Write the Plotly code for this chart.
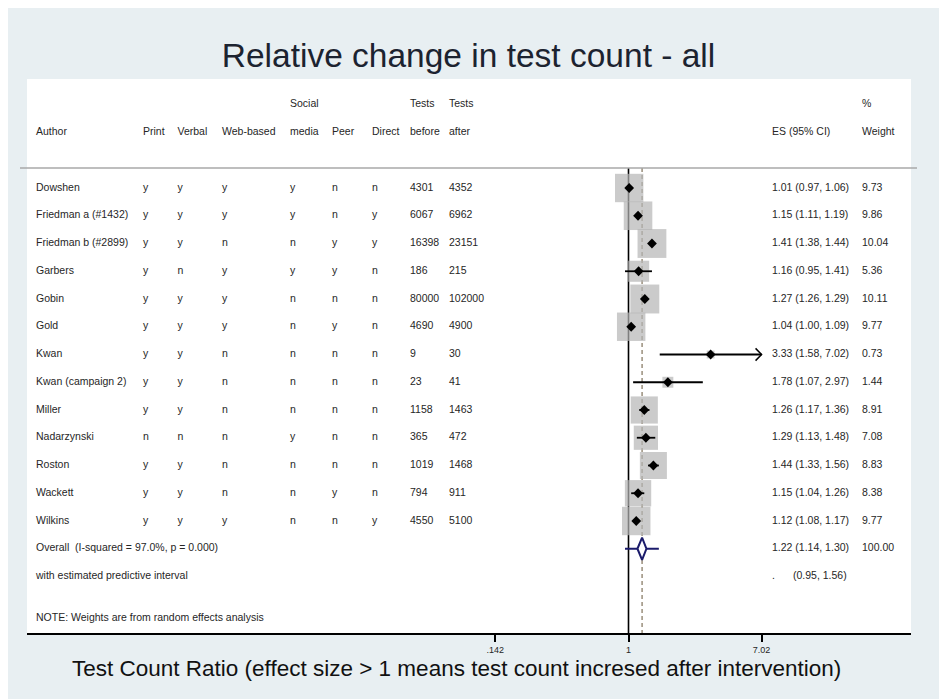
import math
import plotly.graph_objects as go

# ---------------- data ----------------
authors = ["Dowshen", "Friedman a (#1432)", "Friedman b (#2899)", "Garbers", "Gobin", "Gold",
           "Kwan", "Kwan (campaign 2)", "Miller", "Nadarzynski", "Roston", "Wackett", "Wilkins"]
print_col = ["y", "y", "y", "y", "y", "y", "y", "y", "y", "n", "y", "y", "y"]
verbal    = ["y", "y", "y", "n", "y", "y", "y", "y", "y", "n", "y", "y", "y"]
web_based = ["y", "y", "n", "y", "y", "y", "n", "n", "n", "n", "n", "n", "y"]
social    = ["y", "y", "n", "y", "n", "n", "n", "n", "n", "y", "n", "n", "n"]
peer      = ["n", "n", "y", "y", "n", "y", "n", "n", "n", "n", "n", "y", "n"]
direct    = ["n", "y", "y", "n", "n", "n", "n", "n", "n", "n", "n", "n", "y"]
tests_before = [4301, 6067, 16398, 186, 80000, 4690, 9, 23, 1158, 365, 1019, 794, 4550]
tests_after  = [4352, 6962, 23151, 215, 102000, 4900, 30, 41, 1463, 472, 1468, 911, 5100]
es     = [1.01, 1.15, 1.41, 1.16, 1.27, 1.04, 3.33, 1.78, 1.26, 1.29, 1.44, 1.15, 1.12]
ci_lo  = [0.97, 1.11, 1.38, 0.95, 1.26, 1.00, 1.58, 1.07, 1.17, 1.13, 1.33, 1.04, 1.08]
ci_hi  = [1.06, 1.19, 1.44, 1.41, 1.29, 1.09, 7.02, 2.97, 1.36, 1.48, 1.56, 1.26, 1.17]
weight = [9.73, 9.86, 10.04, 5.36, 10.11, 9.77, 0.73, 1.44, 8.91, 7.08, 8.83, 8.38, 9.77]

overall_es, overall_lo, overall_hi, overall_w = 1.22, 1.14, 1.30, 100.00
pred_lo, pred_hi = 0.95, 1.56
i_squared, p_value = 97.0, 0.000

tick_vals = [0.142, 1, 7.02]
tick_text = [".142", "1", "7.02"]
axis_max = 7.02

title_text = "Relative change in test count - all"
caption_text = "Test Count Ratio (effect size > 1 means test count incresed after intervention)"
note_text = "NOTE: Weights are from random effects analysis"

# ---------------- layout constants ----------------
OFF = 8                      # page body margin
SW, SH = 947, 699            # screen size
W, H = SW - OFF, SH - OFF
SL, ST, SR, SB = 27, 79, 911, 633   # plot area on screen
L, T = SL - OFF, ST - OFF
R, B = SW - SR, SH - SB
PW, PH = SR - SL, SB - ST
BG = "#e8eff2"
FONT = "Liberation Sans, Arial, sans-serif"
TXT = "#262626"
PX_PER_DEC = 157.2
X1_PX = 628.5 - SL
xr0 = -X1_PX / PX_PER_DEC
xr1 = (PW - X1_PX) / PX_PER_DEC
ROW_PX = 27.75
y_top = 1 - (188 - ST) / ROW_PX
y_bot = 1 + (SB - 188) / ROW_PX
SEP_ROW = 1 - (188 - 168) / ROW_PX

n = len(authors)
rows = list(range(1, n + 1))
overall_row = n + 1
pred_row = n + 2
note_row = n + 3.5
h1_row, h2_row = -2, -1

fig = go.Figure()

# reference lines
fig.add_trace(go.Scatter(x=[1, 1], y=[SEP_ROW, y_bot], mode="lines",
                         line=dict(color="black", width=1.6), hoverinfo="skip", showlegend=False))
fig.add_trace(go.Scatter(x=[overall_es, overall_es], y=[SEP_ROW, y_bot], mode="lines",
                         line=dict(color="#8a7d68", width=1.3, dash="4px,3px"),
                         hoverinfo="skip", showlegend=False))

# weight boxes
fig.add_trace(go.Scatter(x=es, y=rows, mode="markers",
                         marker=dict(symbol="square", size=[9.1 * math.sqrt(w) for w in weight],
                                     color="#b5b5b5", line=dict(width=0)),
                         hoverinfo="skip", showlegend=False))

# CI lines
cx, cy = [], []
for lo, hi, r in zip(ci_lo, ci_hi, rows):
    cx += [lo, min(hi, axis_max), None]
    cy += [r, r, None]
fig.add_trace(go.Scatter(x=cx, y=cy, mode="lines", line=dict(color="black", width=1.8),
                         hoverinfo="skip", showlegend=False))

# arrow for truncated CI
af = 10 ** (6 / PX_PER_DEC)
ax_, ay_ = [], []
for hi, r in zip(ci_hi, rows):
    if hi >= axis_max:
        ax_ += [hi / af, hi, hi / af, None]
        ay_ += [r - 0.22, r, r + 0.22, None]
fig.add_trace(go.Scatter(x=ax_, y=ay_, mode="lines", line=dict(color="black", width=1.5),
                         hoverinfo="skip", showlegend=False))

# point estimates
fig.add_trace(go.Scatter(x=es, y=rows, mode="markers",
                         marker=dict(symbol="diamond", size=7.5, color="black", line=dict(width=0)),
                         hoverinfo="skip", showlegend=False))

# predictive interval + overall diamond
fig.add_trace(go.Scatter(x=[pred_lo, pred_hi], y=[overall_row, overall_row], mode="lines",
                         line=dict(color="#1b1b6b", width=2), hoverinfo="skip", showlegend=False))
fig.add_trace(go.Scatter(x=[overall_lo, overall_es, overall_hi, overall_es, overall_lo],
                         y=[overall_row, overall_row - 0.4, overall_row, overall_row + 0.4, overall_row],
                         mode="lines", fill="toself", fillcolor="white",
                         line=dict(color="#1b1b6b", width=2), hoverinfo="skip", showlegend=False))

# ---------------- table text ----------------
def col(xpx, header1, header2, values, extra=None):
    xs, ys, ts = [], [], []
    if header1:
        xs.append(xpx - SL); ys.append(h1_row); ts.append(header1)
    if header2:
        xs.append(xpx - SL); ys.append(h2_row); ts.append(header2)
    for v, r in zip(values, rows):
        xs.append(xpx - SL); ys.append(r); ts.append(str(v))
    for (r, t) in (extra or []):
        xs.append(xpx - SL); ys.append(r); ts.append(t)
    fig.add_trace(go.Scatter(x=xs, y=ys, text=ts, mode="text", textposition="middle right",
                             textfont=dict(family=FONT, size=10.5, color=TXT),
                             xaxis="x2", yaxis="y", hoverinfo="skip", showlegend=False))

col(36, None, "Author", authors,
    extra=[(overall_row, f"Overall  (I-squared = {i_squared:.1f}%, p = {p_value:.3f})"),
           (pred_row, "with estimated predictive interval"),
           (note_row, note_text)])
col(143, None, "Print", print_col)
col(177.5, None, "Verbal", verbal)
col(222, None, "Web-based", web_based)
col(290, "Social", "media", social)
col(332, None, "Peer", peer)
col(372, None, "Direct", direct)
col(410, "Tests", "before", tests_before)
col(449, "Tests", "after", tests_after)
col(772, None, "ES (95% CI)", [f"{e:.2f} ({lo:.2f}, {hi:.2f})" for e, lo, hi in zip(es, ci_lo, ci_hi)],
    extra=[(overall_row, f"{overall_es:.2f} ({overall_lo:.2f}, {overall_hi:.2f})"),
           (pred_row, ".")])
col(793, None, None, [], extra=[(pred_row, f"({pred_lo:.2f}, {pred_hi:.2f})")])
col(862, "%", "Weight", [f"{w:.2f}" for w in weight],
    extra=[(overall_row, f"{overall_w:.2f}")])

fig.update_layout(
    width=W, height=H,
    margin=dict(l=L, r=R, t=T, b=B),
    paper_bgcolor=BG, plot_bgcolor="white",
    title=dict(text=title_text, x=(468.5 - OFF) / W, xanchor="center", y=1 - (55 - OFF) / H,
               yanchor="middle", font=dict(family=FONT, size=33.5, color="#1c2330")),
    xaxis=dict(type="log", range=[xr0, xr1], tickvals=tick_vals, ticktext=tick_text,
               ticks="outside", ticklen=7, tickwidth=1.6, tickcolor="black",
               showline=True, linecolor="black", linewidth=1.6, showgrid=False, zeroline=False,
               tickfont=dict(family=FONT, size=9, color=TXT), fixedrange=True),
    xaxis2=dict(overlaying="x", range=[0, PW], visible=False, anchor="y", fixedrange=True),
    yaxis=dict(range=[y_bot, y_top], visible=False, fixedrange=True),
    shapes=[
        dict(type="line", xref="paper", yref="y", x0=-7 / PW, x1=1 + 6 / PW, y0=SEP_ROW, y1=SEP_ROW,
             line=dict(color="#a8a8a8", width=1.5)),
    ],
    annotations=[
        dict(text=caption_text, xref="paper", yref="paper", x=(456.5 - SL) / PW, y=-(668 - SB) / PH,
             xanchor="center", yanchor="middle", showarrow=False,
             font=dict(family=FONT, size=22.5, color="#111111")),
    ],
)

fig.write_html("out.html")
